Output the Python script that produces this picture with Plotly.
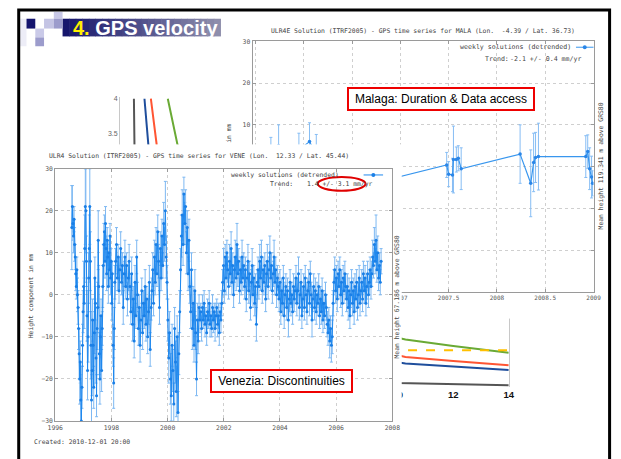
import plotly.graph_objects as go

W, H = 621, 459


def fx(px):
    return px / W


def fy(py):
    return 1 - py / H


MONO = "DejaVu Sans Mono"
SANS = "Liberation Sans, Arial, sans-serif"

# ---------------- Venezia (VENE) weekly solutions, height in mm ----------------
vene_year = [
    1996.59, 1996.61, 1996.63, 1996.65, 1996.67, 1996.69, 1996.71, 1996.73, 1996.75, 1996.77,
    1996.79, 1996.81, 1996.83, 1996.85, 1996.87, 1996.89, 1996.91, 1996.93, 1996.95, 1996.97,
    1996.99, 1997.01, 1997.03,
    1997.05, 1997.07, 1997.09, 1997.11, 1997.13, 1997.15, 1997.17, 1997.19, 1997.21, 1997.23,
    1997.25, 1997.27, 1997.29,
    1997.31, 1997.33, 1997.35, 1997.37, 1997.39, 1997.41, 1997.43, 1997.45, 1997.47, 1997.49,
    1997.51, 1997.53, 1997.55, 1997.57, 1997.59, 1997.61, 1997.63, 1997.65, 1997.67, 1997.69,
    1997.71, 1997.73, 1997.75, 1997.77, 1997.79, 1997.81, 1997.83, 1997.85, 1997.87, 1997.89,
    1997.91, 1997.93, 1997.95, 1997.97, 1997.99, 1998.01, 1998.03,
    1998.06, 1998.08, 1998.10, 1998.12,
    1998.15, 1998.18, 1998.21, 1998.24, 1998.27, 1998.30, 1998.33, 1998.36, 1998.39, 1998.42,
    1998.45, 1998.48, 1998.51, 1998.54, 1998.57, 1998.60, 1998.63,
    1998.66, 1998.69, 1998.72, 1998.75, 1998.78, 1998.81, 1998.84, 1998.87, 1998.90, 1998.93,
    1998.96, 1998.99, 1999.02, 1999.05, 1999.08, 1999.11, 1999.14, 1999.17, 1999.20, 1999.23,
    1999.26, 1999.29, 1999.32, 1999.35, 1999.38, 1999.41, 1999.44,
    1999.47, 1999.50, 1999.53, 1999.56, 1999.59, 1999.62, 1999.65, 1999.68, 1999.71, 1999.74,
    1999.77, 1999.80, 1999.83, 1999.86, 1999.89, 1999.92, 1999.95, 1999.98,
    2000.01, 2000.04, 2000.07, 2000.10, 2000.13, 2000.16, 2000.19, 2000.22, 2000.25, 2000.28,
    2000.31, 2000.34, 2000.37, 2000.40, 2000.43,
    2000.46, 2000.49, 2000.52, 2000.55, 2000.58, 2000.61, 2000.64, 2000.67, 2000.70, 2000.73,
    2000.76, 2000.79,
    2000.82, 2000.85, 2000.88, 2000.91, 2000.94, 2000.97, 2001.00, 2001.03, 2001.06, 2001.09,
    2001.12,
    2001.15, 2001.18, 2001.21, 2001.24, 2001.27, 2001.30, 2001.33, 2001.36, 2001.39, 2001.42,
    2001.45, 2001.48, 2001.51, 2001.54, 2001.57, 2001.60, 2001.63, 2001.66, 2001.69, 2001.72,
    2001.75, 2001.78, 2001.81, 2001.84, 2001.87, 2001.90, 2001.93,
    2001.96, 2001.99, 2002.02, 2002.05, 2002.08, 2002.11, 2002.14, 2002.17, 2002.20, 2002.23,
    2002.26, 2002.29, 2002.32, 2002.35, 2002.38, 2002.41, 2002.44, 2002.47, 2002.50, 2002.53,
    2002.56, 2002.59, 2002.62, 2002.65, 2002.68, 2002.71,
    2002.74, 2002.77, 2002.80, 2002.83, 2002.86, 2002.89, 2002.92, 2002.95, 2002.98, 2003.01,
    2003.04, 2003.07, 2003.10, 2003.13, 2003.16, 2003.19,
    2003.22, 2003.25, 2003.28, 2003.31, 2003.34, 2003.37, 2003.40, 2003.43, 2003.46, 2003.49,
    2003.52, 2003.55, 2003.58, 2003.61, 2003.64, 2003.67, 2003.70, 2003.73, 2003.76, 2003.79,
    2003.82, 2003.85, 2003.88, 2003.91, 2003.94,
    2003.97, 2004.00, 2004.03, 2004.06, 2004.09, 2004.12, 2004.15, 2004.18, 2004.21, 2004.24,
    2004.27, 2004.30, 2004.33, 2004.36, 2004.39, 2004.42, 2004.45, 2004.48, 2004.51, 2004.54,
    2004.57, 2004.60, 2004.63, 2004.66, 2004.69, 2004.72, 2004.75, 2004.78, 2004.81, 2004.84,
    2004.87, 2004.90, 2004.93, 2004.96, 2004.99, 2005.02, 2005.05, 2005.08, 2005.11, 2005.14,
    2005.17, 2005.20, 2005.23, 2005.26, 2005.29, 2005.32, 2005.35, 2005.38, 2005.41,
    2005.44, 2005.47, 2005.50, 2005.53, 2005.56, 2005.59, 2005.62, 2005.65, 2005.68,
    2005.71, 2005.74, 2005.77, 2005.80, 2005.83, 2005.86,
    2005.89, 2005.92, 2005.95, 2005.98, 2006.01, 2006.04, 2006.07, 2006.10, 2006.13, 2006.16,
    2006.19, 2006.22, 2006.25, 2006.28, 2006.31, 2006.34,
    2006.37, 2006.40, 2006.43, 2006.46, 2006.49, 2006.52, 2006.55, 2006.58, 2006.61, 2006.64,
    2006.67, 2006.70, 2006.73, 2006.76, 2006.79, 2006.82, 2006.85, 2006.88,
    2006.91, 2006.94, 2006.97, 2007.00, 2007.03, 2007.06, 2007.09, 2007.12, 2007.15, 2007.18,
    2007.21, 2007.24,
    2007.27, 2007.30, 2007.33, 2007.36, 2007.39, 2007.42, 2007.45, 2007.48, 2007.51, 2007.54,
    2007.57, 2007.60,
]

vene_mm = [
    16, 21, 17, 14, 18, 12, 9, 5, 2, 6,
    0, -3, -8, -14, -20, -16, -25, -30, -22, -12,
    -4, 2, -2,
    11, 21, 20, 8, -5, -18, -10, 4, 11, 21,
    8, -12, -25,
    -18, -6, -12, -22, -9, 4, -2, -15, -24, -8,
    -3, 13, 2, -14, -20, -10, -5, -18, -8, 2,
    7, 12, 15, 8, 17, 11, 5, 13, 9, 2,
    10, 6, 14, 4, 8, -2, 5,
    -12, -21, -8, 3,
    8, 12, 4, 9, 1, 6, 11, 3, 7, -3,
    5, 9, 2, 7, -1, 4, 8,
    2, -4, 5, -7, -1, -11, 3, -5, 9, 0,
    -8, -3, -12, -6, 1, -9, -2, -5, 2, -7,
    -1, -10, -4, 3, -13, -3, 1,
    6, -2, 9, 3, 12, 5, 15, 8, -3, 11,
    4, 14, 7, 17, 12, 20, 9, 3,
    -6, -15, -9, -20, -24, -12, -18, -26, -8, -16,
    -23, -10, -28, -14, -4,
    6, 14, 19, 12, 24, 17, 21, 10, 16, 5,
    13, 2,
    -4, 6, -8, -2, -12, 1, -9, -20, -6, -11,
    -3,
    -6, -4, -8, -3, -6, -2, -7, -5, -9, -4,
    -6, -2, -7, -5, -8, -3, -6, -4, -8, -5,
    -3, -7, -5, -9, -4, -6, -2,
    3, 7, 1, 9, 4, 10, 6, 2, 8, 5,
    11, 3, 7, 0, 6, 9, 4, 12, 5, 8,
    1, 6, 3, 9, 4, 7,
    2, 6, -1, 4, 8, 1, 5, -3, 3, 7,
    0, 4, -2, 2, -7, 3,
    6, 2, 8, 4, 9, 1, 6, 3, 7, -1,
    5, 8, 2, 6, 10, 4, 7, 1, 5, 9,
    3, 6, 0, 4, 2,
    -1, 3, -4, 1, -2, 4, -5, 0, 2, -3,
    1, -6, -1, 3, -2, 0, -4, 2, -1, 1,
    4, -2, 1, 5, -3, 0, 3, -5, -1, 2,
    -3, 4, 0, -4, 1, 3, -2, 5, 0, -6,
    -1, 2, -3, 1, -4, 0, -2, 2, -5,
    -1, -4, 1, -6, -2, -5, 0, -3, -7,
    -9, -6, -11, -8, -12, -10,
    -2, 3, 6, 1, 4, -1, 5, 2, 6, 0,
    3, -2, 4, 1, 5, 2,
    -1, 2, -3, 1, -5, 0, 3, -2, 1, -4,
    2, -1, 3, -3, 0, 4, -2, 1,
    3, -1, 5, 1, 4, -2, 2, 5, 0, 3,
    6, 2,
    5, 9, 7, 12, 8, 13, 6, 10, 4, 7,
    3, 8,
]

vene_err = [
    10, 5, 4, 4, 3, 4, 3, 4, 3, 3,
    4, 4, 5, 6, 6, 5, 6, 8, 5, 5,
    5, 6, 6,
    8, 9, 10, 6, 6, 7, 6, 6, 8, 9,
    7, 8, 6,
    6, 5, 6, 5, 5, 5, 4, 6, 5, 5,
    6, 7, 5, 5, 6, 5, 4, 5, 4, 5,
    5, 5, 4, 4, 4, 3, 4, 3, 3, 4,
    3, 4, 3, 4, 3, 4, 3,
    5, 6, 5, 4,
    3, 4, 3, 3, 3, 3, 4, 3, 3, 4,
    3, 4, 3, 3, 4, 3, 4,
    3, 3, 4, 4, 3, 4, 4, 3, 4, 3,
    4, 3, 4, 3, 3, 4, 3, 3, 4, 4,
    3, 4, 3, 4, 4, 3, 3,
    4, 3, 4, 3, 4, 3, 4, 4, 4, 4,
    3, 4, 3, 5, 4, 7, 5, 4,
    5, 6, 5, 6, 6, 5, 5, 5, 5, 5,
    6, 5, 5, 5, 5,
    5, 5, 6, 5, 4, 5, 4, 5, 4, 4,
    5, 4,
    4, 4, 5, 4, 4, 5, 4, 4, 4, 3,
    3,
    3, 2, 3, 3, 2, 3, 3, 2, 3, 3,
    2, 3, 3, 3, 2, 3, 3, 2, 3, 3,
    2, 3, 3, 3, 2, 3, 3,
    3, 4, 3, 3, 4, 3, 3, 3, 4, 3,
    4, 3, 3, 3, 3, 4, 3, 5, 3, 3,
    3, 3, 3, 4, 3, 3,
    3, 3, 3, 3, 4, 3, 3, 3, 3, 4,
    3, 3, 3, 3, 4, 3,
    3, 3, 4, 3, 4, 3, 3, 3, 3, 3,
    3, 4, 3, 3, 4, 3, 3, 3, 3, 4,
    3, 3, 3, 3, 3,
    3, 3, 3, 3, 3, 3, 3, 3, 3, 3,
    3, 4, 3, 3, 3, 3, 3, 3, 3, 3,
    3, 3, 3, 4, 3, 3, 3, 3, 3, 3,
    3, 3, 3, 3, 3, 3, 3, 3, 3, 4,
    3, 3, 3, 3, 3, 3, 3, 3, 3,
    3, 3, 3, 3, 3, 3, 3, 3, 3,
    3, 3, 4, 3, 4, 4,
    3, 3, 3, 3, 3, 3, 3, 3, 3, 3,
    3, 3, 3, 3, 3, 3,
    3, 3, 3, 3, 3, 3, 3, 3, 3, 3,
    3, 3, 3, 3, 3, 3, 3, 3,
    3, 3, 3, 3, 3, 3, 3, 3, 3, 3,
    3, 3,
    3, 4, 3, 4, 3, 6, 3, 4, 3, 3,
    3, 3,
]
assert len(vene_year) == len(vene_mm) == len(vene_err)

vene_xticks = [1996, 1998, 2000, 2002, 2004, 2006, 2008]
vene_yticks = [-30, -20, -10, 0, 10, 20, 30]

# ---------------- Malaga (MALA) weekly solutions ----------------
mala_year = [2005.66, 2005.74, 2005.95, 2006.06, 2006.13, 2006.20, 2007.48, 2007.50,
             2007.54, 2007.55, 2007.58, 2007.60, 2007.63, 2008.24, 2008.35, 2008.38,
             2008.40, 2008.43, 2008.92, 2008.94, 2008.96, 2008.98, 2008.99]
mala_mm = [3, 5, 4, 6, 3, -7, 0.4, -1.8,
           -2, 1.7, 1.7, 2, -0.5, 3, -4, 1,
           2.2, 2.4, 2.4, 3.6, -0.5, -2.5, -4]
mala_err = [4, 5, 4, 4.5, 4.7, 3, 3, 3,
            4, 8, 3, 3, 5, 7, 8, 7,
            6, 8, 5, 4, 5, 5, 3]
mala_xticks = [2005.5, 2006, 2006.5, 2007, 2007.5, 2008, 2008.5, 2009]
mala_xticklabels = ["", "2006", "2006.5", "2007", "2007.5", "2008", "2008.5", "2009"]
mala_yticks = [-30, -20, -10, 0, 10, 20, 30]

# ---------------- small background line chart ----------------
small_gray_x = [0.50, 0.52, 1.0, 2.0, 4.0, 7.0, 10.0, 12.0, 14.0]
small_gray_y = [4.0, 3.3, 1.5, 0.6, 0.1, -0.08, -0.14, -0.155, -0.17]
small_blue_x = [0.88, 1.02, 2.0, 4.0, 7.0, 10.28, 12.0, 14.0]
small_blue_y = [4.0, 3.33, 1.8, 0.8, 0.35, 0.146, 0.10, 0.05]
small_orange_x = [1.11, 1.32, 2.3, 4.5, 7.5, 10.28, 12.0, 14.0]
small_orange_y = [4.0, 3.33, 2.0, 1.0, 0.5, 0.24, 0.18, 0.12]
small_green_x = [1.72, 2.07, 3.2, 5.5, 8.0, 10.28, 12.0, 14.0]
small_green_y = [4.0, 3.33, 2.2, 1.2, 0.7, 0.495, 0.40, 0.30]
small_ref_x = [0.0, 14.0]
small_ref_y = [0.337, 0.337]
small_xticks = [0, 2, 4, 6, 8, 10, 12, 14]
small_xticklabels = ["<b>%d</b>" % v for v in small_xticks]
small_yticks = [0, 0.5, 1, 1.5, 2, 2.5, 3, 3.5, 4]
small_yticklabels = ["0", "0.5", "1", "1.5", "2", "2.5", "3", "3.5", "4"]

# white backing sheet of each pasted screenshot (unit square in its own hidden axes)
sheet_x = [0, 1, 1, 0, 0]
sheet_y = [0, 0, 1, 1, 0]

# ---------------- figure ----------------
fig = go.Figure()

small_lines = [
    (small_gray_x, small_gray_y, "#555555", "solid"),
    (small_blue_x, small_blue_y, "#1f4e9c", "solid"),
    (small_orange_x, small_orange_y, "#ff5533", "solid"),
    (small_green_x, small_green_y, "#6aaa35", "solid"),
    (small_ref_x, small_ref_y, "#ffc000", "dash"),
]
for xs, ys, c, d in small_lines:
    fig.add_trace(go.Scatter(x=xs, y=ys, mode="lines", line=dict(color=c, width=2, dash=d),
                             xaxis="x", yaxis="y", hoverinfo="skip", showlegend=False))

# Malaga sheet
fig.add_trace(go.Scatter(x=sheet_x, y=sheet_y, mode="lines", fill="toself", fillcolor="white",
                         line=dict(width=0, color="white"), xaxis="x2", yaxis="y2",
                         hoverinfo="skip", showlegend=False))

fig.add_trace(go.Scatter(
    x=mala_year, y=mala_mm, mode="lines+markers",
    line=dict(color="#3896ee", width=1.2), marker=dict(size=3.5, color="#2a86e8"),
    error_y=dict(type="data", array=mala_err, visible=True, color="#86bdf4", thickness=1, width=1.5),
    xaxis="x3", yaxis="y3", hoverinfo="skip", showlegend=False))

# Venezia sheet
fig.add_trace(go.Scatter(x=sheet_x, y=sheet_y, mode="lines", fill="toself", fillcolor="white",
                         line=dict(width=0, color="white"), xaxis="x4", yaxis="y4",
                         hoverinfo="skip", showlegend=False))

fig.add_trace(go.Scatter(
    x=vene_year, y=vene_mm, mode="lines+markers",
    line=dict(color="#1f88ee", width=1), marker=dict(size=3, color="#1a7fe6"),
    error_y=dict(type="data", array=vene_err, visible=True, color="#7db8f2", thickness=1, width=1.5),
    xaxis="x5", yaxis="y5", hoverinfo="skip", showlegend=False))


def gp_axis(**kw):
    d = dict(showline=True, linecolor="#9a9a9a", linewidth=1, mirror="ticks", ticks="inside",
             ticklen=3, tickcolor="#9a9a9a", showgrid=True, gridcolor="#cfcfcf", griddash="dot",
             gridwidth=1, zeroline=False, fixedrange=True,
             tickfont=dict(family=MONO, size=6.4, color="#555"))
    d.update(kw)
    return d


def hidden_axis(**kw):
    d = dict(visible=False, range=[0, 1], showgrid=False, zeroline=False, fixedrange=True)
    d.update(kw)
    return d


fig.update_layout(
    width=W, height=H, autosize=False, margin=dict(l=0, r=0, t=0, b=0),
    paper_bgcolor="white", plot_bgcolor="white", showlegend=False,
    xaxis=dict(domain=[fx(115), fx(514)], range=[0, 14], anchor="y", showgrid=False,
               zeroline=False, showline=False, ticks="", tickvals=small_xticks,
               ticktext=small_xticklabels, tickfont=dict(family=SANS, size=9.5, color="#111")),
    yaxis=dict(domain=[fy(390), fy(95)], range=[-0.2, 4.02], anchor="x", showgrid=False,
               zeroline=False, showline=True, mirror=True, linecolor="#c8c8c8", linewidth=1,
               ticks="", tickvals=small_yticks, ticktext=small_yticklabels,
               tickfont=dict(family=SANS, size=7, color="#666")),
    xaxis2=hidden_axis(domain=[fx(222), fx(617)], anchor="y2"),
    yaxis2=hidden_axis(domain=[fy(320), fy(18)], anchor="x2"),
    xaxis3=gp_axis(domain=[fx(251), fx(601)], range=[2005.47, 2009.0], anchor="y3",
                   tickvals=mala_xticks, ticktext=mala_xticklabels,
                   tickfont=dict(family=MONO, size=6, color="#555")),
    yaxis3=gp_axis(domain=[fy(293), fy(38)], range=[-30, 30], anchor="x3", tickvals=mala_yticks),
    xaxis4=hidden_axis(domain=[fx(14), fx(404)], anchor="y4"),
    yaxis4=hidden_axis(domain=[0, fy(143)], anchor="x4"),
    xaxis5=gp_axis(domain=[fx(48.5), fx(394.5)], range=[1996, 2008], anchor="y5",
                   tickvals=vene_xticks),
    yaxis5=gp_axis(domain=[fy(424.3), fy(167.7)], range=[-30, 30], anchor="x5",
                   tickvals=vene_yticks),
)


def txt(s, px, py, size=6.4, color="#444", xa="center", ya="middle", angle=0, family=MONO):
    fig.add_annotation(text=s, x=fx(px), y=fy(py), xref="paper", yref="paper", showarrow=False,
                       xanchor=xa, yanchor=ya, textangle=angle,
                       font=dict(family=family, size=size, color=color))


def rect(x0, y0, x1, y1, fill, line_color=None, lw=0, kind="rect"):
    fig.add_shape(type=kind, xref="paper", yref="paper", x0=fx(x0), x1=fx(x1),
                  y0=fy(y1), y1=fy(y0), layer="above", fillcolor=fill,
                  line=dict(color=line_color or "rgba(0,0,0,0)", width=lw))


# Malaga texts
txt("ULR4E Solution (ITRF2005) - GPS time series for MALA (Lon.  -4.39 / Lat. 36.73)", 426, 27)
txt("weekly solutions (detrended)", 580, 44, size=6.6, xa="right")
txt("Trend:", 488, 56, size=6.6, xa="left")
txt("-2.1 +/- 0.4 mm/yr", 513, 56, size=6.6, xa="left")
txt("Mean height 119.341 m above GRS80", 609, 165, angle=-90)
txt("in mm", 227, 132, angle=-90)
fig.add_shape(type="line", xref="paper", yref="paper", x0=fx(583), x1=fx(601), y0=fy(44), y1=fy(44),
              layer="above", line=dict(color="#3896ee", width=1))
rect(590, 42, 594, 46, "#2a86e8", kind="circle")

# Venezia texts
txt("ULR4 Solution (ITRF2005) - GPS time series for VENE (Lon.  12.33 / Lat. 45.44)", 196, 155)
txt("weekly solutions (detrended)", 342, 174, xa="right")
txt("Trend:", 267, 183, xa="left")
txt("1.4 +/- 3.1 mm/yr", 305, 183, xa="left")
txt("Mean height 67.186 m above GRS80", 399, 298, angle=-90)
txt("Height component in mm", 23, 297, angle=-90)
txt("Created: 2010-12-01 20:00", 25, 446, xa="left")
fig.add_shape(type="line", xref="paper", yref="paper", x0=fx(365), x1=fx(385), y0=fy(174), y1=fy(174),
              layer="above", line=dict(color="#1f88ee", width=1))
rect(373, 172, 377, 176, "#1a7fe6", kind="circle")
rect(318, 176, 367, 190, "rgba(0,0,0,0)", line_color="#e00000", lw=2, kind="circle")

# Callout boxes
fig.add_annotation(text="Malaga: Duration &amp; Data access", x=fx(444.5), y=fy(97), xref="paper",
                   yref="paper", xanchor="center", yanchor="middle", showarrow=False,
                   font=dict(family=SANS, size=12, color="black"),
                   bgcolor="white", bordercolor="#ee0000", borderwidth=2, borderpad=3,
                   width=178, height=14)
fig.add_annotation(text="Venezia: Discontinuities", x=fx(280.3), y=fy(384), xref="paper",
                   yref="paper", xanchor="center", yanchor="middle", showarrow=False,
                   font=dict(family=SANS, size=12, color="black"),
                   bgcolor="white", bordercolor="#ee0000", borderwidth=2, borderpad=3,
                   width=133, height=14)

# Title banner with gradient
n_slices = 24
bx0, bx1 = 56, 218
c0, c1 = (22, 22, 108), (142, 142, 172)
for i in range(n_slices):
    t = i / (n_slices - 1)
    col = "rgb(%d,%d,%d)" % tuple(int(round(a + (b - a) * t)) for a, b in zip(c0, c1))
    xa = bx0 + (bx1 - bx0) * i / n_slices
    xb = bx0 + (bx1 - bx0) * (i + 1) / n_slices + 0.6
    rect(xa, 15, xb, 33, col)

# decorative squares
rect(12, 15, 19, 43, "#ededf7")
rect(19, 15, 28, 25, "#14146e")
rect(37, 15, 47, 25, "#c4c4e4")
rect(47, 8, 56, 15, "#c8c8e6")
rect(47, 15, 56, 25, "#9c9ccc")
rect(28, 25, 37, 34, "#cacae8")
rect(28, 34, 37, 43, "#9c9ccc")

fig.add_annotation(text="<b><span style='color:#ffee00'>4.</span> GPS velocity</b>", x=fx(65),
                   y=fy(24.5), xref="paper", yref="paper", showarrow=False, xanchor="left",
                   yanchor="middle", font=dict(family=SANS, size=20, color="white"))

# slide border
fig.add_shape(type="rect", xref="paper", yref="paper", x0=fx(11), x1=fx(617.5), y0=fy(480),
              y1=fy(6), layer="above", line=dict(color="black", width=3),
              fillcolor="rgba(0,0,0,0)")

fig.write_html("out.html", config={"displayModeBar": False},
               post_script="document.body.style.margin='0px';document.body.style.overflow='hidden';")
